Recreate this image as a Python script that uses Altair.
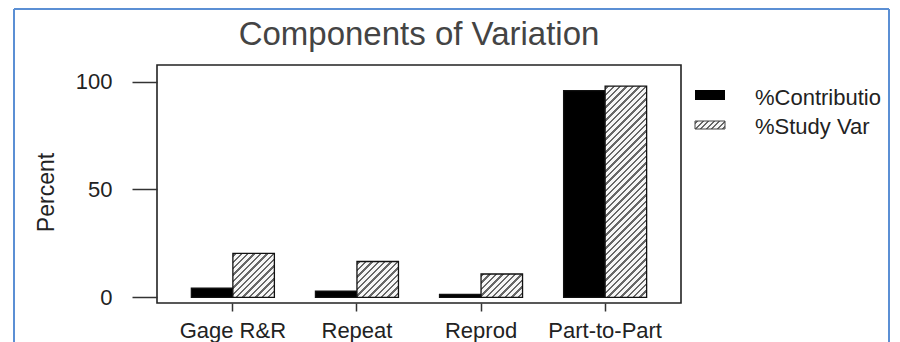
import altair as alt
import pandas as pd

# ---------------- data ----------------
components = ["Gage R&R", "Repeat", "Reprod", "Part-to-Part"]
series = ["%Contribution", "%Study Var"]
contribution = [4.2, 2.9, 1.3, 95.8]
study_var = [20.4, 16.6, 10.8, 97.9]
y_ticks = [0, 50, 100]
title_text = "Components of Variation"
y_title = "Percent"

rows = []
for c, a, b in zip(components, contribution, study_var):
    rows.append({"Component": c, "Series": series[0], "Percent": a})
    rows.append({"Component": c, "Series": series[1], "Percent": b})
df = pd.DataFrame(rows)

# ---------------- layout / style ----------------
FONT = "Liberation Sans"
W, H = 524, 238
Y_MIN, Y_MAX = -2.64, 107.7
PAD_IN, PAD_OUT = 0.331, 0.277
px_per_unit = H / (Y_MAX - Y_MIN)
step = W / (len(components) - PAD_IN + 2 * PAD_OUT)
bar_w = step * (1 - PAD_IN) / 2


def hatch(w, h, period=6.4, line=2.4, ink="#676767", paper="#f6f6f6"):
    """Diagonal '///' hatch as a striped linear gradient for a w x h box."""
    span = w + h
    k = span / (w * w + h * h)
    stops = [{"offset": 0, "color": paper}]
    pos = 1.5
    while pos < span:
        a = pos / span
        b = min((pos + line) / span, 1.0)
        stops += [
            {"offset": a, "color": paper},
            {"offset": a, "color": ink},
            {"offset": b, "color": ink},
            {"offset": b, "color": paper},
        ]
        pos += period
    stops.append({"offset": 1, "color": paper})
    return {"gradient": "linear", "x1": 0, "y1": 0,
            "x2": w * k, "y2": h * k, "stops": stops}


conds = [
    {"test": f"datum.Component === '{c}' && datum.Series === '{series[1]}'",
     "value": hatch(bar_w, v * px_per_unit)}
    for c, v in zip(components, study_var)
]

bars = alt.Chart(df).mark_bar(stroke="#111111", strokeWidth=1.3).encode(
    x=alt.X(
        "Component:N", sort=components,
        scale=alt.Scale(paddingInner=PAD_IN, paddingOuter=PAD_OUT),
        axis=alt.Axis(title=None, domain=False, grid=False, labelAngle=0,
                      tickSize=8, tickWidth=1.5, tickColor="#333333",
                      labelFontSize=22, labelColor="#222222", labelFont=FONT,
                      labelPadding=9),
    ),
    xOffset=alt.XOffset("Series:N", sort=series,
                        scale=alt.Scale(paddingInner=0, paddingOuter=0)),
    y=alt.Y(
        "Percent:Q",
        scale=alt.Scale(domain=[Y_MIN, Y_MAX], nice=False),
        axis=alt.Axis(values=y_ticks, title=y_title, domain=False, grid=False,
                      tickSize=25, tickWidth=1.5, tickColor="#333333",
                      labelFontSize=22, labelColor="#222222", labelFont=FONT,
                      labelPadding=20,
                      titleFontSize=23, titleFont=FONT, titleFontWeight="normal",
                      titleColor="#222222", titleAngle=-90, titleX=-104,
                      titleY=127, titleAlign="center",
                      titleBaseline="alphabetic"),
    ),
    fill=alt.FillValue("black", condition=conds),
)

one = alt.Data(values=[{"k": 0}])

# ---- title ----
title = alt.Chart(one).mark_text(
    text=title_text, align="center", baseline="alphabetic", font=FONT,
    fontSize=33, color="#444444"
).encode(x=alt.value(W / 2), y=alt.value(-20))

# ---- legend (manual) ----
leg_sw1 = alt.Chart(one).mark_rect(fill="black").encode(
    x=alt.value(538), x2=alt.value(568), y=alt.value(25), y2=alt.value(35))
leg_sw2 = alt.Chart(one).mark_rect(
    fill=hatch(30, 8, period=5.5, line=2.0), stroke="#444444", strokeWidth=1
).encode(x=alt.value(538), x2=alt.value(568), y=alt.value(56), y2=alt.value(64))
leg_t1 = alt.Chart(one).mark_text(
    text=series[0], align="left", baseline="middle", font=FONT, fontSize=22,
    color="#222222", limit=133, ellipsis="\u200b"
).encode(x=alt.value(598), y=alt.value(33))
leg_t2 = alt.Chart(one).mark_text(
    text=series[1], align="left", baseline="middle", font=FONT, fontSize=22,
    color="#222222", limit=133, ellipsis="\u200b"
).encode(x=alt.value(598), y=alt.value(62))

# ---- blue screenshot frame ----
FRAME = "#5b8fd4"
fr_left = alt.Chart(one).mark_rule(color=FRAME, strokeWidth=2).encode(
    x=alt.value(-143), y=alt.value(-56), y2=alt.value(300))
fr_top = alt.Chart(one).mark_rule(color=FRAME, strokeWidth=2).encode(
    x=alt.value(-143), x2=alt.value(732), y=alt.value(-56))
fr_right = alt.Chart(one).mark_rule(color=FRAME, strokeWidth=2).encode(
    x=alt.value(732), y=alt.value(-56), y2=alt.value(300))

chart = alt.layer(
    bars, title, leg_sw1, leg_sw2, leg_t1, leg_t2, fr_left, fr_top, fr_right
).properties(
    width=W, height=H,
    autosize=alt.AutoSizeParams(type="none"),
    padding={"left": 149, "top": 57, "right": 211, "bottom": 39},
    background="white",
).configure_view(stroke="#222222", strokeWidth=1.6)

chart.save("out.html", embed_options={"renderer": "svg", "actions": False})
